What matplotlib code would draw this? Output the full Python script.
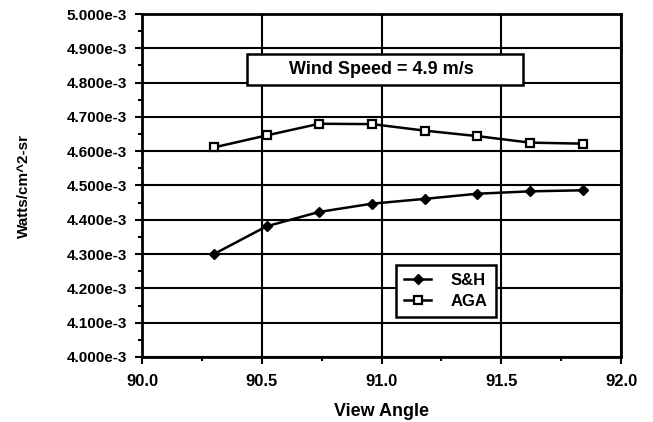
import numpy as np
import matplotlib
matplotlib.use("Agg")
import matplotlib.pyplot as plt
from matplotlib.ticker import MultipleLocator, FuncFormatter

# data
view_angle = [90.30, 90.52, 90.74, 90.96, 91.18, 91.40, 91.62, 91.84]
sh_vals = [4.300e-3, 4.381e-3, 4.423e-3, 4.447e-3, 4.461e-3, 4.476e-3, 4.483e-3, 4.486e-3]
aga_vals = [4.611e-3, 4.646e-3, 4.680e-3, 4.679e-3, 4.660e-3, 4.644e-3, 4.625e-3, 4.622e-3]
series_names = ["S&H", "AGA"]
title_text = "Wind Speed = 4.9 m/s"

plt.rcParams['font.family'] = ['Liberation Sans', 'DejaVu Sans']
plt.rcParams['font.weight'] = 'bold'

fig = plt.figure(figsize=(6.53, 4.22), dpi=100)
ax = fig.add_axes([142/653, 1 - 357/422, (621 - 142)/653, (357 - 14)/422])

ax.plot(view_angle, sh_vals, color='black', lw=1.8, marker='D', ms=5,
        mfc='black', mec='black', label=series_names[0], zorder=3)
ax.plot(view_angle, aga_vals, color='black', lw=1.8, marker='s', ms=5.5,
        mfc='white', mec='black', mew=1.6, label=series_names[1], zorder=3)

ax.set_xlim(90.0, 92.0)
ax.set_ylim(4.0e-3, 5.0e-3)
ax.xaxis.set_major_locator(MultipleLocator(0.5))
ax.xaxis.set_minor_locator(MultipleLocator(0.25))
ax.yaxis.set_major_locator(MultipleLocator(0.1e-3))
ax.yaxis.set_minor_locator(MultipleLocator(0.05e-3))
ax.xaxis.set_major_formatter(FuncFormatter(lambda v, p: "%.1f" % v))
ax.yaxis.set_major_formatter(FuncFormatter(lambda v, p: "%.3fe-3" % (v * 1e3)))

ax.grid(True, which='major', color='black', lw=1.5)
for s in ax.spines.values():
    s.set_linewidth(2)
ax.tick_params(which='major', direction='out', length=5, width=1.5)
ax.tick_params(which='minor', direction='out', length=3, width=1.5)
ax.tick_params(axis='x', pad=7, labelsize=12)
ax.tick_params(axis='y', pad=6, labelsize=11)

ax.set_xlabel("View Angle", fontsize=13, fontweight='bold', labelpad=10)
ax.set_ylabel("Watts/cm^2-sr", fontsize=11, fontweight='bold')
ax.yaxis.set_label_coords(-0.232, 0.5)

# title box, wider than its text as in the original
ax.add_patch(plt.Rectangle((90.44, 4.793e-3), 1.15, 0.09e-3, fc='white',
                           ec='black', lw=1.8, zorder=4))
ax.text(91.0, 4.838e-3, title_text, ha='center', va='center', fontsize=13,
        fontweight='bold', zorder=5)

leg = ax.legend(loc='lower left', bbox_to_anchor=((396 - 142)/479, (357 - 317)/343),
                fancybox=False, edgecolor='black', framealpha=1, fontsize=12,
                handlelength=1.6, handletextpad=1.2, borderpad=0.5,
                labelspacing=0.35, borderaxespad=0)
leg.get_frame().set_linewidth(1.8)

fig.savefig("out.png", dpi=100)
